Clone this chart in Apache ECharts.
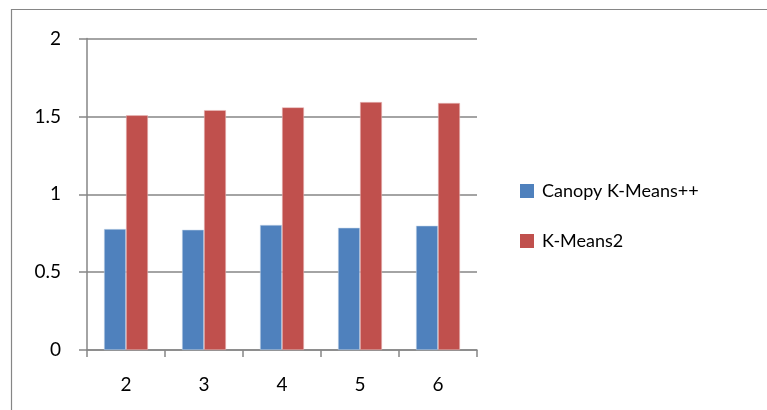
<!DOCTYPE html>
<html>
<head>
<meta charset="utf-8">
<script src="https://cdn.jsdelivr.net/npm/echarts@6/dist/echarts.min.js"></script>
<style>
  html, body { margin: 0; padding: 0; background: #fff; }
  #chart { width: 767px; height: 410px; }
</style>
</head>
<body>
<div id="chart"></div>
<script>
// Cluster counts on the x axis
const categories = ['2', '3', '4', '5', '6'];
// Series values
const canopyKMeansPP = [0.777, 0.772, 0.803, 0.785, 0.798];
const kMeans2 = [1.507, 1.54, 1.558, 1.592, 1.586];
const seriesNames = ['Canopy K-Means++', 'K-Means2'];

const axisGray = '#868686';
const fontFamily = 'Lato, "Open Sans", sans-serif';

const chart = echarts.init(document.getElementById('chart'), null, { renderer: 'canvas' });
chart.setOption({
  animation: false,
  backgroundColor: '#ffffff',
  textStyle: { fontFamily: fontFamily, color: '#000' },
  graphic: [{
    type: 'rect',
    shape: { x: 11.5, y: 9.5, width: 900, height: 600 },
    style: { fill: 'none', stroke: axisGray, lineWidth: 1.2 },
    silent: true
  }],
  grid: { left: 87, top: 38.5, right: 290, bottom: 60, containLabel: false },
  legend: {
    orient: 'vertical',
    left: 515,
    top: 177,
    itemWidth: 14,
    itemHeight: 14,
    itemGap: 32,
    icon: 'rect',
    itemStyle: { borderWidth: 0 },
    textStyle: { fontSize: 18, fontFamily: fontFamily, color: '#000', padding: [0, 0, 0, 3] },
    data: seriesNames
  },
  xAxis: {
    type: 'category',
    data: categories,
    axisLine: { show: true, lineStyle: { color: axisGray, width: 1.5 } },
    axisTick: { show: true, alignWithLabel: false, length: 7, lineStyle: { color: axisGray, width: 1.5 } },
    axisLabel: { fontSize: 19, color: '#000', margin: 25, fontFamily: fontFamily },
    splitLine: { show: false }
  },
  yAxis: {
    type: 'value',
    min: 0,
    max: 2,
    interval: 0.5,
    axisLine: { show: true, lineStyle: { color: axisGray, width: 1.5 } },
    axisTick: { show: true, length: 8, lineStyle: { color: axisGray, width: 1.5 } },
    axisLabel: { fontSize: 19, color: '#000', margin: 26, fontFamily: fontFamily },
    splitLine: { show: true, lineStyle: { color: axisGray, width: 1.5 } }
  },
  series: [
    {
      name: seriesNames[0],
      type: 'bar',
      data: canopyKMeansPP,
      barWidth: 22,
      barGap: '0%',
      itemStyle: { color: '#4F81BD', borderColor: 'rgba(200,215,235,0.9)', borderWidth: 0.6 }
    },
    {
      name: seriesNames[1],
      type: 'bar',
      data: kMeans2,
      barWidth: 22,
      barGap: '0%',
      itemStyle: { color: '#C0504D', borderColor: 'rgba(235,190,190,0.9)', borderWidth: 0.6 }
    }
  ]
});
</script>
</body>
</html>
